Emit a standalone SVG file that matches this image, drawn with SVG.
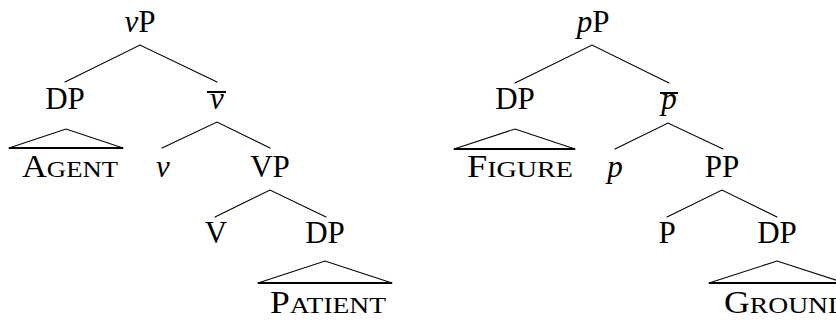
<svg xmlns="http://www.w3.org/2000/svg" width="836" height="320" viewBox="0 0 836 320" font-family="'Liberation Serif', 'Times New Roman', serif">
<style>
  text { font-family: "Liberation Serif", "Times New Roman", serif; font-size: 31px; fill: #000; text-anchor: middle; }
  .it { font-style: italic; }
  .sc { text-anchor: start; }
  .sm { font-size: 24px; }
  .edge { stroke: #000; stroke-width: 1.1; fill: none; stroke-linecap: round; }
  .base { stroke: #000; stroke-width: 2.2; fill: none; }
  .bar { stroke: #000; stroke-width: 2; }
</style>
<rect width="836" height="320" fill="#fff"/>
<g id="connectors">
  <polyline class="edge" points="65,82 140,45 217,82"/>
  <polyline class="edge" points="162,148 217,122 270,148"/>
  <polyline class="edge" points="215,217 270,190 326,217"/>
  <polyline class="edge" points="9,148 66,129 123,148"/>
  <line class="base" x1="9" y1="148" x2="123" y2="148"/>
  <polyline class="edge" points="258,283 325,261 392,283"/>
  <line class="base" x1="258" y1="283" x2="392" y2="283"/>
  <polyline class="edge" points="515,83 592,45 669,83"/>
  <polyline class="edge" points="615,149 668,123 723,149"/>
  <polyline class="edge" points="667,217 722,190 777,217"/>
  <polyline class="edge" points="454,149 515,129 575,149"/>
  <line class="base" x1="454" y1="149" x2="575" y2="149"/>
  <polyline class="edge" points="709,283 777,261 845,283"/>
  <line class="base" x1="709" y1="283" x2="845" y2="283"/>
</g>
<g id="vP"><text x="140" y="32"><tspan class="it">v</tspan>P</text></g>
<g id="DP-agent"><text x="65" y="109">DP</text></g>
<g id="vbar"><line class="bar" x1="207" y1="92" x2="226" y2="92"/><text class="it" x="217" y="109">v</text></g>
<g id="agent"><text class="sc" x="22" y="177" textLength="96" lengthAdjust="spacingAndGlyphs">A<tspan class="sm">GENT</tspan></text></g>
<g id="v"><text class="it" x="163" y="177">v</text></g>
<g id="VP"><text x="270" y="177">VP</text></g>
<g id="V"><text x="216" y="243">V</text></g>
<g id="DP-patient"><text x="325" y="243">DP</text></g>
<g id="patient"><text class="sc" x="270" y="313" textLength="116" lengthAdjust="spacingAndGlyphs">P<tspan class="sm">ATIENT</tspan></text></g>
<g id="pP"><text x="593" y="32"><tspan class="it">p</tspan>P</text></g>
<g id="DP-figure"><text x="515" y="109">DP</text></g>
<g id="pbar"><line class="bar" x1="660" y1="93" x2="678" y2="93"/><text class="it" x="669" y="109">p</text></g>
<g id="figure"><text class="sc" x="467" y="177" textLength="106" lengthAdjust="spacingAndGlyphs">F<tspan class="sm">IGURE</tspan></text></g>
<g id="p"><text class="it" x="615" y="177">p</text></g>
<g id="PP"><text x="722" y="177">PP</text></g>
<g id="P"><text x="667" y="243">P</text></g>
<g id="DP-ground"><text x="777" y="243">DP</text></g>
<g id="ground"><text class="sc" x="724" y="313" textLength="124" lengthAdjust="spacingAndGlyphs">G<tspan class="sm">ROUND</tspan></text></g>
</svg>
